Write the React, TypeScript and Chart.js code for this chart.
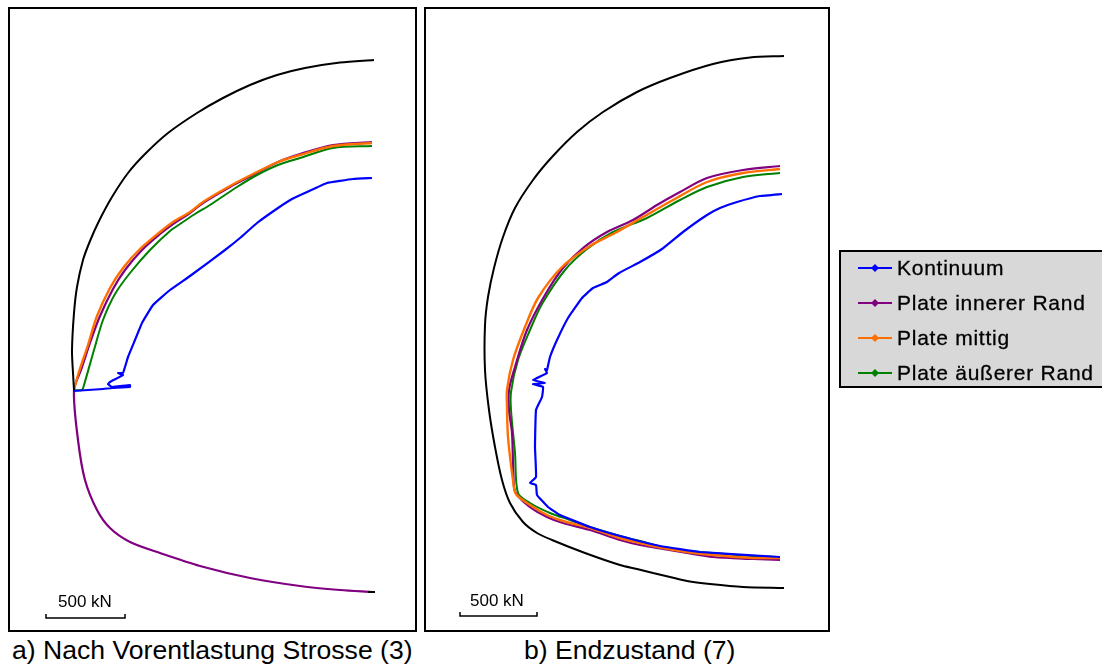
import React, { useEffect, useRef } from "react";
import { Chart, registerables } from "chart.js";

Chart.register(...registerables);

type Pt = [number, number];

const BLUE = "#0000ff";
const PURPLE = "#800080";
const ORANGE = "#ff6f00";
const GREEN = "#008000";

const legendNames = ["Kontinuum", "Plate innerer Rand", "Plate mittig", "Plate äußerer Rand"];
const legendColors = [BLUE, PURPLE, ORANGE, GREEN];

// Panel a) readings, in picture units
const aBoundary: Pt[] = [[374,60],[340,62.5],[305,68],[277,75],[250,85],[223,98],[197,113],[168,133],[145,154],[128,173],[112,197],[99,221],[90,241],[83,260],[77,287],[74,313],[72,350],[73,373],[74,390]];
const aBoundaryEnd: Pt[] = [[368,592],[375,592]];
const aKontinuum: Pt[] = [[372,178],[353,179],[327,183],[307,192],[292,199],[278,208],[257,223],[240,238],[225,250],[190,276],[170,290],[153,305],[142,323],[135,340],[128,357],[123,373],[118,373],[123,375],[110,382],[108,384],[112,387],[130,385],[130,387],[112,388],[103,389],[73,391]];
const aInner: Pt[] = [[372,142],[333,145],[300,154],[278,162],[253,175],[230,187],[203,203],[190,213],[173,224],[160,234],[142,250],[125,270],[113,289],[100,316],[91,340],[81,370],[74,390],[78,440],[85,480],[97,510],[110,528],[130,542],[160,553],[200,566],[250,578],[300,586],[340,590],[372,592]];
const aMittig: Pt[] = [[372,143],[333,146],[300,155],[278,162],[253,174],[230,186],[203,202],[190,212],[173,222],[160,232],[140,249],[123,268],[110,288],[97,316],[88,345],[78,375],[74,390]];
const aOuter: Pt[] = [[372,146],[333,148],[300,158],[278,165],[257,175],[237,187],[210,205],[195,214],[180,224],[170,231],[150,250],[130,273],[115,294],[103,320],[94,350],[84,385],[82,390],[74,390]];
const aScale: Pt[] = [[46,614],[46,618],[125,618],[125,614]];

// Panel b) readings, in picture units
const bBoundary: Pt[] = [[784,56],[750,57.5],[713,64],[670,78],[637,92],[603,112],[577,132],[552,157],[533,180],[515,208],[503,237],[494,268],[488,297],[485,325],[485,370],[489,410],[495,447],[502,480],[510,503],[523,522],[537,533],[552,540],[585,553],[620,565],[637,569],[653,573],[670,577],[687,581],[710,584],[743,587],[784,588]];
const bKontinuum: Pt[] = [[782,194],[760,196],[737,202],[720,208],[707,215],[683,232],[662,249],[640,262],[619,273],[607,282],[593,288],[582,298],[568,318],[557,340],[550,357],[547,370],[545,369],[547,373],[533,380],[545,383],[533,384],[543,387],[542,397],[536,410],[535,447],[536,477],[530,483],[536,485],[537,495],[548,507],[560,515],[590,527],[620,536],[660,546],[700,552],[780,557]];
const bInner: Pt[] = [[780,166],[743,170],[707,178],[680,192],[657,205],[633,220],[607,232],[583,248],[563,268],[545,295],[527,330],[515,367],[509,390],[509,410],[512,433],[514,487],[517,495],[530,507],[547,517],[563,523],[590,530],[620,540],[640,545],[663,549],[687,553],[713,557],[753,559],[780,560]];
const bMittig: Pt[] = [[780,169],[743,173],[707,182],[673,200],[643,217],[615,233],[590,246],[562,267],[538,298],[525,327],[513,360],[507,390],[507,407],[508,437],[513,480],[516,494],[530,505],[547,515],[563,521],[590,528],[620,538],[640,543],[663,548],[687,552],[713,555],[753,558],[780,558]];
const bOuter: Pt[] = [[780,173],[743,177],[707,187],[680,200],[647,218],[613,232],[587,249],[565,270],[542,304],[530,330],[518,360],[511,392],[511,410],[515,453],[518,493],[530,503],[550,513],[570,520],[590,527],[620,536],[640,541],[663,547],[687,551],[713,553],[753,556],[780,557]];
const bScale: Pt[] = [[460,612],[460,616],[537,616],[537,612]];

const toXY = (pts: Pt[]) => pts.map(([x, y]) => ({ x, y }));

function line(data: Pt[], color: string, tension = 0.3, width = 2) {
  return {
    data: toXY(data),
    showLine: true,
    borderColor: color,
    backgroundColor: color,
    borderWidth: width,
    pointRadius: 0,
    tension,
    fill: false,
  };
}

function Panel(props: { left: number; right: number; datasets: any[] }) {
  const ref = useRef<HTMLCanvasElement>(null);
  const { left, right, datasets } = props;
  const top = 10;
  const bottom = 630;
  useEffect(() => {
    const chart = new Chart(ref.current as HTMLCanvasElement, {
      type: "scatter",
      data: { datasets },
      options: {
        animation: false,
        responsive: false,
        layout: { padding: 0 },
        plugins: { legend: { display: false }, tooltip: { enabled: false } },
        scales: {
          x: { type: "linear", min: left, max: right, display: false },
          y: { type: "linear", min: top, max: bottom, reverse: true, display: false },
        },
      },
    });
    return () => chart.destroy();
  }, []);
  return (
    <canvas
      ref={ref}
      width={right - left}
      height={bottom - top}
      style={{ position: "absolute", left, top, width: right - left, height: bottom - top }}
    />
  );
}

const sans = "'Liberation Sans', Arial, sans-serif";

const boxStyle = (left: number, width: number): React.CSSProperties => ({
  position: "absolute",
  left,
  top: 7,
  width,
  height: 625,
  border: "2px solid #000",
  boxSizing: "border-box",
  background: "#fff",
});

const textAt = (left: number, top: number, size: number, extra: React.CSSProperties = {}): React.CSSProperties => ({
  position: "absolute",
  left,
  top,
  fontFamily: sans,
  fontSize: size,
  lineHeight: 1,
  whiteSpace: "nowrap",
  color: "#000",
  ...extra,
});

export default function App() {
  const legendRows = [268, 303, 338, 373];
  return (
    <div style={{ position: "fixed", left: 0, top: 0, width: 1102, height: 666, background: "#fff", overflow: "hidden" }}>
      <div style={boxStyle(8, 409)} />
      <div style={boxStyle(424, 406)} />
      <Panel
        left={10}
        right={415}
        datasets={[
          line(aBoundary, "#000"),
          line(aBoundaryEnd, "#000", 0),
          line(aKontinuum, BLUE, 0.1, 2.2),
          line(aMittig, ORANGE, 0.3, 2.4),
          line(aOuter, GREEN),
          line(aInner, PURPLE, 0.3, 2.2),
          line(aScale, "#000", 0, 1.5),
        ]}
      />
      <Panel
        left={426}
        right={828}
        datasets={[
          line(bBoundary, "#000"),
          line(bKontinuum, BLUE, 0.1, 2.2),
          line(bMittig, ORANGE, 0.3, 2.4),
          line(bInner, PURPLE, 0.3, 2.2),
          line(bOuter, GREEN),
          line(bScale, "#000", 0, 1.5),
        ]}
      />
      <div style={textAt(58, 593, 17)}>500 kN</div>
      <div style={textAt(470, 592, 17)}>500 kN</div>
      <div style={textAt(12, 637, 26.6)}>a) Nach Vorentlastung Strosse (3)</div>
      <div style={textAt(524, 637, 26.6)}>b) Endzustand (7)</div>

      <div style={{ position: "absolute", left: 839, top: 250, width: 264, height: 138, background: "#d8d8d8", border: "2px solid #000", borderRightWidth: 0, boxSizing: "border-box" }} />
      <svg style={{ position: "absolute", left: 0, top: 0 }} width={1102} height={666}>
        {legendRows.map((y, i) => (
          <g key={i}>
            <line x1={858} x2={892} y1={y} y2={y} stroke={legendColors[i]} strokeWidth={2} />
            <polygon points={`${875},${y - 4} ${879},${y} ${875},${y + 4} ${871},${y}`} fill={legendColors[i]} />
          </g>
        ))}
      </svg>
      {legendRows.map((y, i) => (
        <div key={i} style={textAt(897, y - 11, 21, { letterSpacing: 0.75, WebkitTextStroke: "0.3px #000" })}>{legendNames[i]}</div>
      ))}
    </div>
  );
}
